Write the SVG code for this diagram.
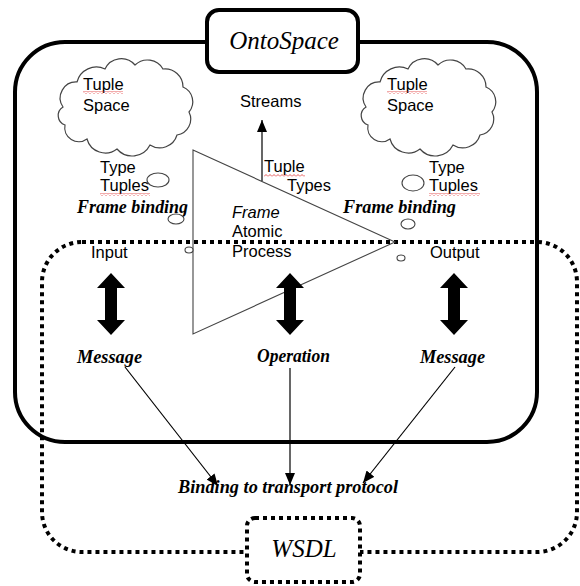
<svg xmlns="http://www.w3.org/2000/svg" width="580" height="586" viewBox="0 0 580 586">
<style>
.sans{font-family:"Liberation Sans",Arial,sans-serif;font-size:16.5px;fill:#000}
.bi{font-family:"Liberation Serif","Times New Roman",serif;font-size:18px;font-weight:bold;font-style:italic;fill:#000}
.ti{font-family:"Liberation Serif","Times New Roman",serif;font-size:25px;font-style:italic;fill:#000}
.solid{fill:none;stroke:#000;stroke-width:4}
.dot{fill:none;stroke:#000;stroke-width:4;stroke-dasharray:4 4}
.cloud{fill:#fff;stroke:#444;stroke-width:1.2}
.thin{fill:none;stroke:#444;stroke-width:1.1}
.conn{fill:none;stroke:#000;stroke-width:1.2}
.dbl{fill:#000}
.oval{fill:#fff;stroke:#444;stroke-width:1.1}
</style>
<defs>
<marker id="ah" viewBox="0 0 12 10" refX="12" refY="5" markerWidth="12" markerHeight="10" markerUnits="userSpaceOnUse" orient="auto">
<path d="M0,0 L12,5 L0,10 Z" fill="#000"/>
</marker>
<pattern id="squig" patternUnits="userSpaceOnUse" width="4" height="3">
<path d="M0,2.5 L2,0.5 L4,2.5" fill="none" stroke="#e03030" stroke-width="0.8"/>
</pattern>
<path id="cloudshape" d="M8,50 A16,16 0 0 1 22,25 A20,20 0 0 1 50,12 A18,18 0 0 1 80,8 A18,18 0 0 1 108,12 A18,18 0 0 1 128,30 A16,16 0 0 1 134,55 A16,16 0 0 1 122,78 A18,18 0 0 1 95,88 A20,20 0 0 1 62,92 A19,19 0 0 1 32,82 A14,14 0 0 1 10,68 A10,10 0 0 1 8,50 Z"/>
</defs>

<g id="ontospace-frame">
<rect x="15" y="42" width="522" height="400" rx="50" ry="50" class="solid"/>
</g>

<g id="wsdl-frame">
<rect x="42" y="242" width="535" height="310" rx="40" ry="40" class="dot"/>
</g>

<g id="cloud-left">
<use href="#cloudshape" transform="translate(55,57)" class="cloud"/>
<text class="sans" x="83" y="90">Tuple</text>
<text class="sans" x="83" y="111">Space</text>
<rect x="83" y="91" width="40" height="3" fill="url(#squig)"/>
</g>

<g id="cloud-right">
<use href="#cloudshape" transform="translate(358,57)" class="cloud"/>
<text class="sans" x="387" y="90">Tuple</text>
<text class="sans" x="387" y="111">Space</text>
<rect x="387" y="91" width="40" height="3" fill="url(#squig)"/>
</g>

<g id="process">
<path d="M193,150 L395,242 L193,334 Z" class="thin"/>
<text class="sans" x="232" y="218" font-style="italic">Frame</text>
<text class="sans" x="232" y="237">Atomic</text>
<text class="sans" x="232" y="257">Process</text>
</g>

<g id="type-tuples-left">
<text class="sans" x="100" y="173">Type</text>
<text class="sans" x="100" y="191">Tuples</text>
<rect x="100" y="193" width="50" height="3" fill="url(#squig)"/>
<ellipse cx="158" cy="180" rx="11" ry="7" class="oval"/>
</g>

<g id="type-tuples-right">
<text class="sans" x="429" y="173">Type</text>
<text class="sans" x="429" y="191">Tuples</text>
<rect x="429" y="193" width="51" height="3" fill="url(#squig)"/>
<ellipse cx="413" cy="183" rx="11" ry="8" class="oval"/>
</g>

<g id="tuple-types">
<text class="sans" x="264" y="172">Tuple</text>
<text class="sans" x="287" y="191">Types</text>
<rect x="264" y="174" width="41" height="3" fill="url(#squig)"/>
</g>

<g id="streams">
<text class="sans" x="240" y="107">Streams</text>
</g>

<g id="frame-binding-left">
<text class="bi" x="77" y="213" textLength="111" lengthAdjust="spacingAndGlyphs">Frame binding</text>
<ellipse cx="176" cy="219" rx="8" ry="5" class="oval"/>
<ellipse cx="189" cy="250" rx="4" ry="3" class="oval"/>
</g>

<g id="frame-binding-right">
<text class="bi" x="343" y="213" textLength="113" lengthAdjust="spacingAndGlyphs">Frame binding</text>
<ellipse cx="408" cy="224" rx="7" ry="5" class="oval"/>
<ellipse cx="401" cy="258" rx="4" ry="3" class="oval"/>
</g>

<g id="input">
<text class="sans" x="91" y="258">Input</text>
</g>
<g id="output">
<text class="sans" x="430" y="258">Output</text>
</g>

<g id="message-left">
<text class="bi" x="77" y="363" textLength="65" lengthAdjust="spacingAndGlyphs">Message</text>
</g>
<g id="operation">
<text class="bi" x="257" y="362" textLength="73" lengthAdjust="spacingAndGlyphs">Operation</text>
</g>
<g id="message-right">
<text class="bi" x="420" y="363" textLength="65" lengthAdjust="spacingAndGlyphs">Message</text>
</g>

<g id="binding">
<text class="bi" x="178" y="493" textLength="220" lengthAdjust="spacingAndGlyphs">Binding to transport protocol</text>
</g>

<g id="connectors">
<line x1="262" y1="181" x2="262" y2="120" class="conn" marker-end="url(#ah)"/>
<polygon class="dbl" points="111,273 125,288 117,288 117,320 125,320 111,335 97,320 105,320 105,288 97,288"/>
<polygon class="dbl" points="290,273 304,288 296,288 296,320 304,320 290,335 276,320 284,320 284,288 276,288"/>
<polygon class="dbl" points="454,273 468,288 460,288 460,320 468,320 454,335 440,320 448,320 448,288 440,288"/>
<line x1="125" y1="367" x2="218" y2="486" class="conn" marker-end="url(#ah)"/>
<line x1="290" y1="368" x2="290" y2="485" class="conn" marker-end="url(#ah)"/>
<line x1="455" y1="367" x2="363" y2="483" class="conn" marker-end="url(#ah)"/>
</g>

<g id="ontospace-label">
<rect x="207" y="10" width="151" height="62" rx="12" ry="12" fill="#fff" stroke="#000" stroke-width="4"/>
<text class="ti" x="284" y="49" text-anchor="middle">OntoSpace</text>
</g>

<g id="wsdl-label">
<rect x="247" y="518" width="113" height="64" rx="8" ry="8" class="dot" style="fill:#fff"/>
<text class="ti" x="304" y="557" text-anchor="middle">WSDL</text>
</g>
</svg>
